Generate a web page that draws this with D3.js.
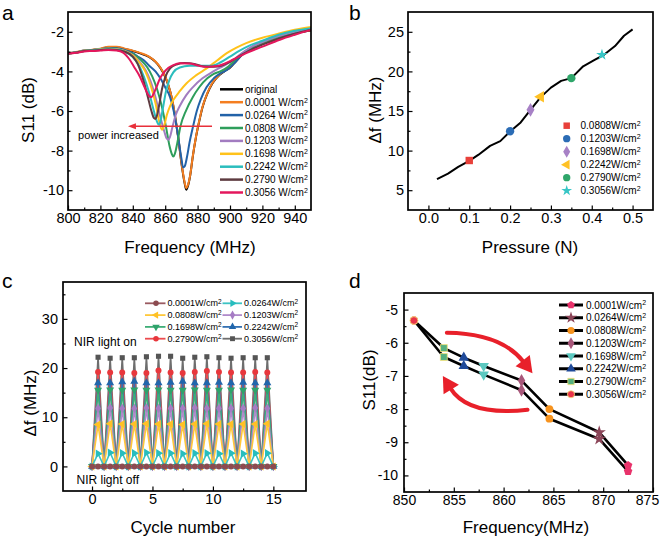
<!DOCTYPE html>
<html><head><meta charset="utf-8">
<script src="https://cdn.jsdelivr.net/npm/d3@7"></script>
<style>body{margin:0;background:#fff}</style>
</head><body>
<script>
// ---------------- DATA ----------------
const powerLabels = ["0.0001","0.0264","0.0808","0.1203","0.1698","0.2242","0.2790","0.3056"];

// Panel a : S11 spectra [frequency MHz, S11 dB]
const aOriginal = [[800,-3.1],[805,-3.05],[810,-2.97],[815,-2.92],[820,-2.87],[825,-2.78],[830,-2.78],[835,-2.87],[840,-2.97],[845,-3.1],[850,-3.27],[854,-3.52],[857,-3.82],[860,-4.27],[862,-4.72],[864,-5.32],[866,-6.22],[868,-7.32],[870,-8.62],[872,-9.65],[873,-9.98],[874,-9.8],[875.5,-9.22],[877,-8.32],[879,-7.32],[881,-6.52],[883,-5.82],[886,-5.12],[889,-4.62],[893,-4.22],[897,-3.97],[900,-3.82],[903,-3.55],[907,-3.2],[912,-2.88],[918,-2.62],[925,-2.42],[932,-2.22],[940,-2.07],[950,-1.93]];
const a0001 = [[800,-3.08],[805,-3.02],[810,-2.95],[815,-2.9],[820,-2.85],[825,-2.75],[830,-2.75],[835,-2.85],[840,-2.95],[845,-3.08],[850,-3.25],[854,-3.5],[857,-3.8],[860,-4.25],[862,-4.7],[864,-5.3],[866,-6.2],[868,-7.3],[870,-8.6],[872,-9.6],[873,-9.9],[874,-9.75],[875.5,-9.2],[877,-8.3],[879,-7.3],[881,-6.5],[883,-5.8],[886,-5.1],[889,-4.6],[893,-4.2],[897,-3.95],[900,-3.8],[903,-3.52],[907,-3.18],[912,-2.86],[918,-2.6],[925,-2.4],[932,-2.2],[940,-2.05],[950,-1.92]];
const a0264 = [[800,-3.08],[805,-3.03],[810,-2.95],[815,-2.92],[820,-2.88],[825,-2.82],[830,-2.83],[835,-2.92],[840,-3.08],[843,-3.25],[847,-3.45],[850,-3.7],[854,-4.0],[857,-4.35],[860,-4.8],[863,-5.3],[866,-6.3],[868,-7.3],[870,-8.4],[871,-8.85],[872,-8.8],[873.5,-8.3],[875,-7.6],[877,-6.85],[879.5,-6.0],[882,-5.4],[885.5,-4.8],[890,-4.35],[894,-4.1],[898,-3.93],[903,-3.55],[908,-3.1],[913,-2.8],[920,-2.5],[930,-2.2],[940,-1.98],[950,-1.86]];
const a0808 = [[800,-3.08],[805,-3.04],[810,-2.96],[815,-2.93],[820,-2.88],[825,-2.84],[830,-2.86],[835,-2.95],[840,-3.12],[845,-3.42],[849,-3.8],[852,-4.25],[855,-4.9],[858,-5.8],[860.5,-6.8],[862.5,-7.7],[864,-8.15],[865,-8.3],[866,-8.15],[867.5,-7.6],[869.5,-6.75],[873,-5.95],[877,-5.3],[881,-4.8],[886,-4.35],[890,-4.12],[894,-4.0],[899,-3.75],[904,-3.35],[909,-3.0],[915,-2.72],[920,-2.55],[930,-2.25],[940,-2.05],[950,-1.9]];
const a1203 = [[800,-3.08],[805,-3.04],[810,-2.96],[815,-2.92],[820,-2.88],[825,-2.85],[830,-2.87],[835,-2.97],[840,-3.18],[844,-3.5],[848,-3.95],[851,-4.5],[854,-5.3],[857,-6.3],[859.5,-7.05],[861,-7.4],[862,-7.45],[863,-7.3],[864.5,-6.8],[866.5,-6.2],[869,-5.75],[873,-5.2],[877.3,-4.78],[883,-4.35],[889.7,-4.0],[896,-3.72],[902,-3.42],[907,-3.1],[912,-2.82],[920,-2.52],[930,-2.22],[940,-2.0],[950,-1.86]];
const a1698 = [[800,-3.08],[805,-3.04],[810,-2.96],[815,-2.92],[820,-2.88],[825,-2.86],[830,-2.88],[835,-2.98],[840,-3.2],[844,-3.55],[848,-4.05],[851,-4.7],[854,-5.6],[856.5,-6.6],[858,-6.95],[859.5,-6.7],[861,-6.2],[863,-5.75],[865,-5.45],[869,-5.0],[873.2,-4.6],[879,-4.2],[885.6,-3.85],[892,-3.45],[898,-3.08],[904,-2.8],[910,-2.57],[920,-2.3],[931,-2.07],[940,-1.9],[950,-1.76]];
const a2242 = [[800,-3.08],[805,-3.04],[810,-2.97],[815,-2.93],[820,-2.9],[825,-2.88],[830,-2.9],[835,-3.0],[840,-3.28],[844,-3.72],[847,-4.3],[850,-5.05],[853,-6.0],[855,-6.55],[856,-6.7],[857,-6.55],[858.5,-5.9],[860.5,-5.0],[862.5,-4.45],[865,-4.05],[869,-3.8],[875,-3.72],[882,-3.72],[888,-3.72],[894,-3.55],[900,-3.25],[906,-2.95],[912,-2.7],[920,-2.45],[930,-2.15],[940,-1.95],[950,-1.82]];
const a2790 = [[800,-3.1],[805,-3.05],[810,-2.97],[815,-2.94],[820,-2.92],[825,-2.9],[830,-2.92],[835,-3.0],[840,-3.25],[843,-3.62],[846,-4.3],[849,-5.2],[851.5,-6.0],[853,-6.35],[854,-6.4],[855,-6.2],[856.5,-5.6],[858,-4.9],[860,-4.3],[863,-3.85],[867,-3.65],[872,-3.58],[878,-3.62],[884,-3.75],[890,-3.76],[895,-3.7],[900,-3.52],[906,-3.22],[912,-2.95],[920,-2.65],[930,-2.35],[940,-2.1],[950,-1.9]];
const a3056 = [[800,-3.1],[805,-3.06],[810,-2.99],[815,-2.97],[820,-2.95],[825,-2.92],[830,-2.95],[834,-3.05],[838,-3.4],[841,-3.8],[844.4,-4.27],[847,-4.75],[849,-5.1],[850.5,-5.28],[851.5,-5.3],[853,-5.1],[854.7,-4.78],[856.5,-4.4],[858.8,-4.1],[862,-3.82],[865,-3.68],[869,-3.59],[875,-3.6],[881,-3.72],[886,-3.77],[892,-3.73],[897,-3.6],[902,-3.4],[910,-3.08],[920,-2.75],[930.8,-2.4],[940,-2.15],[950,-1.9]];
const aNames = ["original","0.0001 W/cm","0.0264 W/cm","0.0808 W/cm","0.1203 W/cm","0.1698 W/cm","0.2242 W/cm","0.2790 W/cm","0.3056 W/cm"];
const aColors = ["#000000","#F47E20","#2262A8","#2E9E5B","#A27CC0","#FFC21A","#2BBDBD","#5E3B40","#E3175C"];
const aXTicks = [800,820,840,860,880,900,920,940];
const aYTicks = [-2,-4,-6,-8,-10];

// Panel b : frequency shift vs pressure
const bPressure = [0.021,0.048,0.073,0.1,0.122,0.151,0.176,0.2,0.226,0.25,0.275,0.3,0.325,0.35,0.379,0.407,0.43,0.457,0.479,0.5];
const bShift    = [6.4,7.1,7.95,8.7,9.45,10.6,11.2,12.4,13.55,15.15,16.75,17.95,18.8,19.15,20.65,21.45,22.1,23.2,24.5,25.3];
const bMarkLabels = ["0.0808W/cm","0.1203W/cm","0.1698W/cm","0.2242W/cm","0.2790W/cm","0.3056W/cm"];
const bMarkP = [0.1,0.2,0.25,0.275,0.35,0.425];
const bMarkV = [8.75,12.45,15.15,16.8,19.15,22.1];
const bMarkColors = ["#E8403A","#2B6CB5","#A781C6","#FFC125","#2FA66A","#37C6C6"];
const bXTicks = [0.0,0.1,0.2,0.3,0.4,0.5];
const bYTicks = [5,10,15,20,25];

// Panel c : cycling (valleys at integer cycles, peaks at half cycles)
const cCycle = [0,0.5,1,1.5,2,2.5,3,3.5,4,4.5,5,5.5,6,6.5,7,7.5,8,8.5,9,9.5,10,10.5,11,11.5,12,12.5,13,13.5,14,14.5,15];
const cPeak0001 = [0,0,0,0,0,0,0,0,0,0,0,0,0,0,0];
const cPeak0264 = [2.6,2.8,2.7,2.7,2.8,2.7,2.7,2.6,2.7,2.7,2.6,2.7,2.6,2.7,2.7];
const cPeak0808 = [8.5,8.7,8.6,8.6,8.7,8.6,8.6,8.5,8.6,8.7,8.6,8.6,8.6,8.6,8.7];
const cPeak1203 = [11.8,11.9,11.8,11.8,11.9,11.8,11.8,11.8,11.9,11.8,11.8,11.8,11.8,11.9,11.8];
const cPeak1698 = [15.5,15.6,15.5,15.6,15.5,15.6,15.5,15.5,15.6,15.5,15.5,15.6,15.5,15.5,15.5];
const cPeak2242 = [17.0,17.0,17.2,17.3,17.0,17.0,17.1,17.3,17.0,17.0,17.1,17.0,17.1,17.0,17.0];
const cPeak2790 = [19.2,19.1,19.1,19.0,19.0,19.5,19.1,19.0,19.2,19.4,19.2,19.1,19.1,19.2,19.1];
const cPeak3056 = [22.2,22.0,22.1,22.1,22.3,22.4,22.4,22.0,22.2,22.3,22.1,22.0,22.1,22.1,22.1];
const cOff = 0;
const cColors = ["#8C4B50","#27BDBE","#FFC125","#A67CC4","#2FA36B","#2166AC","#E8373C","#555555"];
const cLineColors = ["#9A5A60","#3CC3C3","#FFC83A","#B08BCB","#3FAE77","#3471B3","#EC4B4F","#6E6E6E"];
const cSymbols = ["circle","triRight","triLeft","diamond","triDown","triUp","circle","square"];
const cXTicks = [0,5,10,15];
const cYTicks = [0,10,20,30];

// Panel d : resonance points (power increasing: upper path, decreasing: lower path)
const dFreq  = [872.5,869.6,864.6,861.8,858,856,854,851];      // 0.0001 ... 0.3056
const dUpper = [-9.7,-8.7,-8.0,-7.14,-6.7,-6.45,-6.16,-5.33];
const dLower = [-9.88,-8.9,-8.29,-7.43,-6.96,-6.7,-6.43,-5.33];
const dColors = ["#E8336B","#8B4558","#F7931E","#A8577A","#5CC8C0","#1F4A9A","#55B07F","#E8334A"];
const dSymbols = ["pentagon","star","circle","diamond","triDown","triUp","square","circle"];
const dXTicks = [850,855,860,865,870,875];
const dYTicks = [-5,-6,-7,-8,-9,-10];

// ---------------- DRAWING ----------------
const FONT = "'Liberation Sans', Arial, Helvetica, sans-serif";
const svg = d3.select("body").append("svg").attr("width",661).attr("height",538)
  .style("font-family",FONT).style("background","#fff");

const pentagon = { draw(ctx,size){ const r=Math.sqrt(size/2.38); for(let i=0;i<5;i++){const a=-Math.PI/2+i*2*Math.PI/5; const px=r*Math.cos(a), py=r*Math.sin(a); i?ctx.lineTo(px,py):ctx.moveTo(px,py);} ctx.closePath(); } };
function symPath(name,size){
  const map = {circle:d3.symbolCircle,square:d3.symbolSquare,diamond:d3.symbolDiamond,star:d3.symbolStar,
    triUp:d3.symbolTriangle,triDown:d3.symbolTriangle,triLeft:d3.symbolTriangle,triRight:d3.symbolTriangle,pentagon:pentagon};
  return d3.symbol().type(map[name]).size(size)();
}
function symRot(name){ return {triDown:180,triLeft:-90,triRight:90}[name]||0; }

function panel(o){
  const x = d3.scaleLinear().domain(o.xDomain).range([o.L,o.R]);
  const y = d3.scaleLinear().domain(o.yDomain).range([o.B,o.T]);
  const g = svg.append("g");
  const cid = "clip-"+o.id;
  g.append("clipPath").attr("id",cid).append("rect").attr("x",o.L).attr("y",o.T).attr("width",o.R-o.L).attr("height",o.B-o.T);
  const plot = g.append("g").attr("clip-path",`url(#${cid})`);
  const axes = g.append("g");
  axes.append("g").attr("transform",`translate(0,${o.B})`).call(d3.axisBottom(x).tickValues(o.xMinor).tickSizeInner(-2.5).tickSizeOuter(0).tickFormat(""));
  axes.append("g").attr("transform",`translate(${o.L},0)`).call(d3.axisLeft(y).tickValues(o.yMinor).tickSizeInner(-2.5).tickSizeOuter(0).tickFormat(""));
  const xg = axes.append("g").attr("transform",`translate(0,${o.B})`).call(d3.axisBottom(x).tickValues(o.xTicks).tickSizeInner(-4.5).tickSizeOuter(0).tickPadding(o.xPad).tickFormat(o.xFmt));
  axes.append("g").attr("transform",`translate(${o.L},0)`).call(d3.axisLeft(y).tickValues(o.yTicks).tickSizeInner(-4.5).tickSizeOuter(0).tickPadding(o.yPad).tickFormat(o.yFmt));
  axes.selectAll(".domain").remove();
  axes.selectAll(".tick line").attr("stroke","#000").attr("stroke-width",1.2);
  axes.selectAll(".tick text").attr("font-size",o.tickFont).attr("font-family",FONT).attr("fill","#000");
  const top = g.append("g");
  top.append("rect").attr("x",o.L).attr("y",o.T).attr("width",o.R-o.L).attr("height",o.B-o.T)
    .attr("fill","none").attr("stroke","#000").attr("stroke-width",1.7);
  g.append("text").attr("x",o.xtX).attr("y",o.xtY).attr("text-anchor","middle").attr("font-size",17).text(o.xTitle);
  g.append("text").attr("transform",`translate(${o.ytX},${o.ytY}) rotate(-90)`).attr("dy","0.35em")
    .attr("text-anchor","middle").attr("font-size",17).text(o.yTitle);
  g.append("text").attr("x",o.lX).attr("y",o.lY).attr("font-size",21).text(o.letter);
  return {x,y,plot,top,g,xg};
}
const fmtPlain = d => String(d);

// ===== Panel a =====
{
  const p = panel({id:"a",L:68,R:311,T:12,B:210,xDomain:[800,950],yDomain:[-11,-1],
    xTicks:aXTicks,yTicks:aYTicks,xMinor:[810,830,850,870,890,910,930],yMinor:[-3,-5,-7,-9],
    xFmt:fmtPlain,yFmt:fmtPlain,xPad:3,yPad:4,tickFont:14.5,
    xTitle:"Frequency (MHz)",xtX:190,xtY:253,yTitle:"S11 (dB)",ytX:28,ytY:110,letter:"a",lX:2,lY:20});
  const series = [aOriginal,a0001,a0264,a0808,a1203,a1698,a2242,a2790,a3056];
  const line = d3.line().x(d=>p.x(d[0])).y(d=>p.y(d[1])).curve(d3.curveMonotoneX);
  series.forEach((s,i)=>{
    p.plot.append("path").attr("d",line(s)).attr("fill","none").attr("stroke",aColors[i])
      .attr("stroke-width",2).attr("stroke-linejoin","round");
  });
  const ay = p.y(-6.77), ax1 = p.x(888.9), ax0 = p.x(837);
  p.plot.append("line").attr("x1",ax1).attr("x2",ax0+6).attr("y1",ay).attr("y2",ay).attr("stroke","#E8303A").attr("stroke-width",1.6);
  p.plot.append("path").attr("d",`M${ax0},${ay}L${ax0+8},${ay-3}L${ax0+8},${ay+3}Z`).attr("fill","#E8303A");
  p.g.append("text").attr("x",p.x(806.2)).attr("y",p.y(-7.43)).attr("font-size",11).text("power increased");
  const lg = p.g.append("g");
  aNames.forEach((n,i)=>{
    const yy = 89.3 + i*12.9;
    lg.append("line").attr("x1",220).attr("x2",243).attr("y1",yy).attr("y2",yy).attr("stroke",aColors[i]).attr("stroke-width",2.5);
    const t = lg.append("text").attr("x",245).attr("y",yy).attr("dy","0.35em").attr("font-size",10);
    t.append("tspan").text(n);
    if(i>0) t.append("tspan").attr("dy","-0.45em").attr("font-size",7).text("2");
  });
}

// ===== Panel b =====
{
  const p = panel({id:"b",L:408,R:653,T:12,B:210,xDomain:[-0.05,0.55],yDomain:[2.5,27.5],
    xTicks:bXTicks,yTicks:bYTicks,xMinor:[0.05,0.15,0.25,0.35,0.45],yMinor:[7.5,12.5,17.5,22.5],
    xFmt:d3.format(".1f"),yFmt:fmtPlain,xPad:3,yPad:4,tickFont:14.5,
    xTitle:"Pressure (N)",xtX:530,xtY:253,yTitle:"\u0394f (MHz)",ytX:375,ytY:110,letter:"b",lX:349,lY:20});
  const pts = bPressure.map((v,i)=>[v,bShift[i]]);
  const line = d3.line().x(d=>p.x(d[0])).y(d=>p.y(d[1]));
  p.plot.append("path").attr("d",line(pts)).attr("fill","none").attr("stroke","#000").attr("stroke-width",2).attr("stroke-linejoin","round");
  const bSyms = ["square","circle","diamond","triLeft","circle","star"];
  bMarkP.forEach((v,i)=>{
    p.plot.append("path").attr("d",symPath(bSyms[i],bSyms[i]==="star"?42:55))
      .attr("transform",`translate(${p.x(v)},${p.y(bMarkV[i])}) rotate(${symRot(bSyms[i])})`).attr("fill",bMarkColors[i]);
  });
  const lg = p.g.append("g");
  bMarkLabels.forEach((n,i)=>{
    const yy = 125.7 + i*13;
    lg.append("path").attr("d",symPath(bSyms[i],bSyms[i]==="star"?36:42))
      .attr("transform",`translate(566.7,${yy}) rotate(${symRot(bSyms[i])})`).attr("fill",bMarkColors[i]);
    const t = lg.append("text").attr("x",580.5).attr("y",yy).attr("dy","0.35em").attr("font-size",10);
    t.append("tspan").text(n);
    t.append("tspan").attr("dy","-0.45em").attr("font-size",7).text("2");
  });
}

// ===== Panel c =====
{
  const p = panel({id:"c",L:63,R:306,T:282,B:491,xDomain:[-2.4,17.7],yDomain:[-5,37.5],
    xTicks:cXTicks,yTicks:cYTicks,xMinor:[2.5,7.5,12.5],yMinor:[5,15,25,35],
    xFmt:fmtPlain,yFmt:fmtPlain,xPad:3,yPad:5,tickFont:14.5,
    xTitle:"Cycle number",xtX:183,xtY:533,yTitle:"\u0394f (MHz)",ytX:30.5,ytY:403,letter:"c",lX:2,lY:288});
  const peaks = [cPeak0001,cPeak0264,cPeak0808,cPeak1203,cPeak1698,cPeak2242,cPeak2790,cPeak3056];
  const line = d3.line().x(d=>p.x(d[0])).y(d=>p.y(d[1]));
  const order = [7,6,5,4,3,2,1,0];
  order.forEach(i=>{
    const pts = cCycle.map((c,k)=>[c, k%2===1 ? peaks[i][(k-1)/2] : cOff]);
    p.plot.append("path").attr("d",line(pts)).attr("fill","none").attr("stroke",cLineColors[i]).attr("stroke-width",1.6);
    pts.forEach(d=>{
      p.plot.append("path").attr("d",symPath(cSymbols[i],cSymbols[i]==="square"?26:28))
        .attr("transform",`translate(${p.x(d[0])},${p.y(d[1])}) rotate(${symRot(cSymbols[i])})`).attr("fill",cColors[i]);
    });
  });
  p.g.append("text").attr("x",74).attr("y",346).attr("font-size",12).text("NIR light on");
  p.g.append("text").attr("x",76.5).attr("y",484).attr("font-size",12).text("NIR light off");
  const lg = p.g.append("g");
  const cols = [[145,156,167.5],[222.5,232.5,244]];
  powerLabels.forEach((n,i)=>{
    const c = cols[i%2], yy = 303.3 + Math.floor(i/2)*11.8;
    lg.append("line").attr("x1",c[0]).attr("x2",c[2]-2).attr("y1",yy).attr("y2",yy).attr("stroke",cLineColors[i]).attr("stroke-width",1.8);
    lg.append("path").attr("d",symPath(cSymbols[i],24)).attr("transform",`translate(${c[1]},${yy}) rotate(${symRot(cSymbols[i])})`).attr("fill",cColors[i]);
    const t = lg.append("text").attr("x",c[2]).attr("y",yy).attr("dy","0.35em").attr("font-size",9);
    t.append("tspan").text(n+"W/cm");
    t.append("tspan").attr("dy","-0.45em").attr("font-size",6.5).text("2");
  });
}

// ===== Panel d =====
{
  const p = panel({id:"d",L:404,R:653,T:293,B:492,xDomain:[850,875],yDomain:[-10.5,-4.5],
    xTicks:dXTicks,yTicks:dYTicks,xMinor:[852.5,857.5,862.5,867.5,872.5],yMinor:[-5.5,-6.5,-7.5,-8.5,-9.5],
    xFmt:fmtPlain,yFmt:fmtPlain,xPad:3,yPad:6,tickFont:14,
    xTitle:"Frequency(MHz)",xtX:526,xtY:533,yTitle:"S11(dB)",ytX:369,ytY:380,letter:"d",lX:349,lY:288});
  // keep the last tick label inside the picture, as in the original
  p.xg.selectAll(".tick text").filter(d=>d===875).attr("dx",-6);
  const line = d3.line().x(d=>p.x(d[0])).y(d=>p.y(d[1]));
  const up = dFreq.map((f,i)=>[f,dUpper[i]]), lo = dFreq.map((f,i)=>[f,dLower[i]]);
  [up,lo].forEach(s=>p.plot.append("path").attr("d",line(s)).attr("fill","none").attr("stroke","#000").attr("stroke-width",2.6).attr("stroke-linejoin","round"));
  [up,lo].forEach(s=>s.forEach((d,i)=>{
    const sy = dSymbols[i];
    p.plot.append("path").attr("d",symPath(sy, sy==="star"?55:48))
      .attr("transform",`translate(${p.x(d[0])},${p.y(d[1])}) rotate(${symRot(sy)})`)
      .attr("fill",dColors[i]).attr("stroke",(i>=6)?"#F5E27A":"none").attr("stroke-width",0.8);
  }));
  function arrow(s,c,t){
    const S=[p.x(s[0]),p.y(s[1])], C=[p.x(c[0]),p.y(c[1])], T=[p.x(t[0]),p.y(t[1])];
    const dx=T[0]-C[0], dy=T[1]-C[1], len=Math.hypot(dx,dy), ux=dx/len, uy=dy/len;
    const hl=16, hw=9;
    const B=[T[0]-ux*hl, T[1]-uy*hl];
    p.top.append("path").attr("d",`M${S[0]},${S[1]}Q${C[0]},${C[1]} ${B[0]+ux*2},${B[1]+uy*2}`)
      .attr("fill","none").attr("stroke","#E8202A").attr("stroke-width",4).attr("stroke-linecap","round");
    p.top.append("path").attr("d",`M${T[0]},${T[1]}L${B[0]-uy*hw},${B[1]+ux*hw}L${B[0]+uy*hw},${B[1]-ux*hw}Z`).attr("fill","#E8202A");
  }
  arrow([854.3,-5.7],[859.8,-5.72],[862.9,-6.92]);
  arrow([862.4,-8.02],[856.4,-8.22],[853.9,-7.0]);
  const lg = p.g.append("g");
  powerLabels.forEach((n,i)=>{
    const yy = 305 + i*12.75;
    lg.append("line").attr("x1",559).attr("x2",583).attr("y1",yy).attr("y2",yy).attr("stroke","#000").attr("stroke-width",3);
    lg.append("path").attr("d",symPath(dSymbols[i], dSymbols[i]==="star"?45:40)).attr("transform",`translate(571,${yy}) rotate(${symRot(dSymbols[i])})`)
      .attr("fill",dColors[i]).attr("stroke",(i>=6)?"#F5E27A":"none").attr("stroke-width",0.8);
    const t = lg.append("text").attr("x",586).attr("y",yy).attr("dy","0.35em").attr("font-size",10);
    t.append("tspan").text(n+"W/cm");
    t.append("tspan").attr("dy","-0.45em").attr("font-size",7).text("2");
  });
}
</script>
</body></html>
